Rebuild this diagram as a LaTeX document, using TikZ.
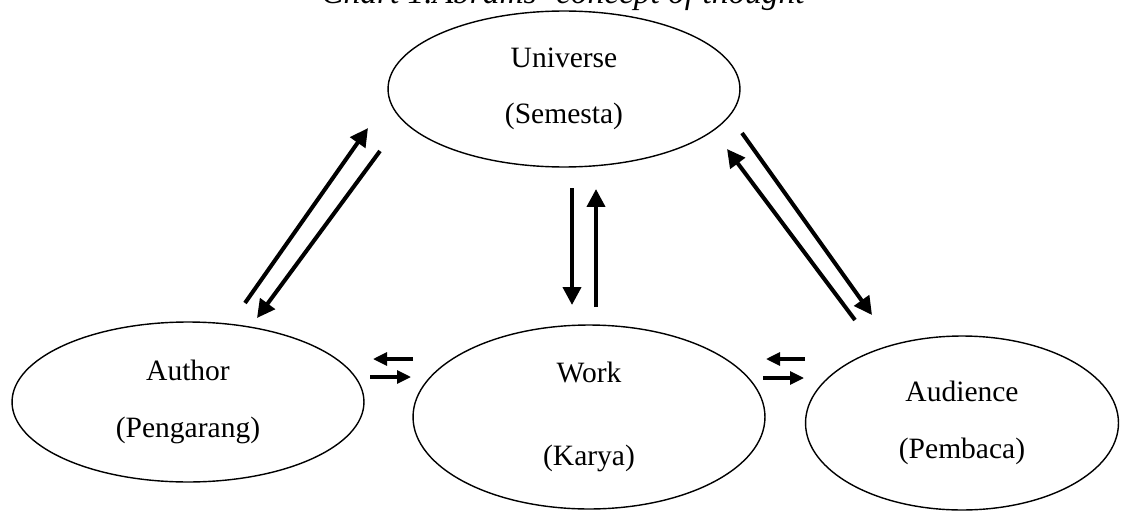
\documentclass[tikz,border=0pt]{standalone}
\usepackage{fontspec}
\setmainfont{Liberation Serif}
\usetikzlibrary{arrows.meta, positioning, shapes.geometric}

\begin{document}
\begin{tikzpicture}[
  x=0.02cm, y=-0.02cm,
  oval/.style={ellipse, draw, line width=0.8pt, inner sep=0pt,
               font=\fontsize{16.8}{32}\selectfont},
  arrow/.style={-{Triangle[length=0.36cm, width=0.36cm]}, line width=2.3pt},
  smallarrow/.style={-{Triangle[length=0.28cm, width=0.26cm]}, line width=1.8pt},
  every node/.style={align=center}
]
\useasboundingbox (0,0) rectangle (1121,510);

\node[font=\fontsize{19}{23}\selectfont\itshape, anchor=base] (title) at (563,4)
  {Chart 1.Abrams' concept of thought};

\node[oval, minimum width=7.04cm, minimum height=3.12cm] (universe) at (564,89)
  {Universe\\(Semesta)};
\node[oval, minimum width=7.04cm, minimum height=3.2cm] (author) at (188,402)
  {Author\\(Pengarang)};
\node[oval, minimum width=7.04cm, minimum height=3.68cm] (work) at (589,417)
  {Work\\[15pt](Karya)};
\node[oval, minimum width=6.26cm, minimum height=3.48cm] (audience) at (962,423)
  {Audience\\(Pembaca)};

% arrow ends
\coordinate (authorOut) at (245,303);  \coordinate (universeIn1) at (368,128);
\coordinate (universeOut1) at (380,151); \coordinate (authorIn) at (257,318);
\coordinate (universeOut2) at (572,188); \coordinate (workIn1) at (572,305);
\coordinate (workOut1) at (596,307);   \coordinate (universeIn2) at (596,189);
\coordinate (universeOut3) at (742,133); \coordinate (audienceIn1) at (872,315);
\coordinate (audienceOut1) at (855,320); \coordinate (universeIn3) at (727,149);
\coordinate (workOut2) at (413,359);   \coordinate (authorIn2) at (373,359);
\coordinate (authorOut2) at (370,377); \coordinate (workIn2) at (411,377);
\coordinate (audienceOut2) at (805,359); \coordinate (workIn3) at (766,359);
\coordinate (workOut3) at (763,378);   \coordinate (audienceIn2) at (804,378);

\draw[arrow] (authorOut)    -- (universeIn1);
\draw[arrow] (universeOut1) -- (authorIn);
\draw[arrow] (universeOut2) -- (workIn1);
\draw[arrow] (workOut1)     -- (universeIn2);
\draw[arrow] (universeOut3) -- (audienceIn1);
\draw[arrow] (audienceOut1) -- (universeIn3);
\draw[smallarrow] (workOut2)     -- (authorIn2);
\draw[smallarrow] (authorOut2)   -- (workIn2);
\draw[smallarrow] (audienceOut2) -- (workIn3);
\draw[smallarrow] (workOut3)     -- (audienceIn2);
\end{tikzpicture}
\end{document}
